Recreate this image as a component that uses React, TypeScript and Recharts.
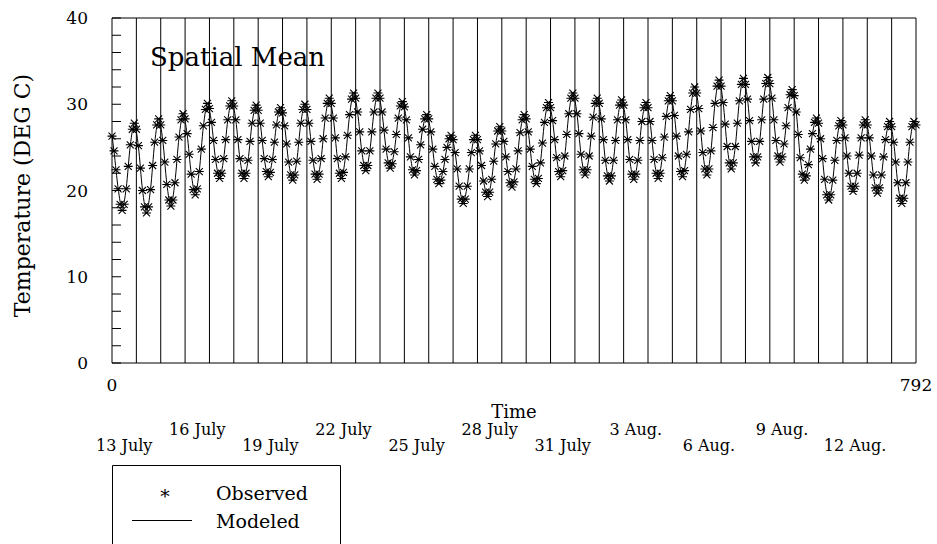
import { ComposedChart, Line, Scatter, XAxis, YAxis, ReferenceLine, ReferenceArea } from "recharts";

const FONT = "DejaVu Serif";

// observed temperature every 2 h, one row per day (hours 0,2,...,22)
const OBSERVED_ROWS = [
  [26.3, 24.6, 22.4, 20.2, 18.4, 17.7, 18.4, 20.2, 22.8, 25.3, 27.1, 27.8],
  [27.1, 25.2, 22.6, 20.0, 18.1, 17.4, 18.1, 20.1, 22.9, 25.6, 27.6, 28.3],
  [27.6, 25.8, 23.3, 20.7, 18.9, 18.2, 18.9, 20.9, 23.6, 26.2, 28.2, 28.9],
  [28.3, 26.6, 24.2, 21.9, 20.1, 19.5, 20.2, 22.2, 24.8, 27.5, 29.4, 30.1],
  [29.5, 27.9, 25.8, 23.6, 22.0, 21.4, 22.0, 23.7, 25.9, 28.2, 29.8, 30.4],
  [29.8, 28.2, 25.9, 23.7, 22.0, 21.4, 22.0, 23.5, 25.7, 27.8, 29.3, 29.9],
  [29.3, 27.8, 25.8, 23.7, 22.2, 21.6, 22.1, 23.6, 25.6, 27.6, 29.1, 29.6],
  [29.0, 27.5, 25.4, 23.3, 21.8, 21.2, 21.8, 23.4, 25.6, 27.8, 29.4, 30.0],
  [29.4, 27.8, 25.7, 23.5, 21.9, 21.3, 21.9, 23.7, 26.0, 28.4, 30.1, 30.7],
  [30.1, 28.4, 26.1, 23.7, 22.0, 21.4, 22.1, 23.9, 26.4, 28.8, 30.6, 31.3],
  [30.7, 29.1, 26.8, 24.6, 22.9, 22.3, 22.9, 24.6, 26.8, 29.1, 30.7, 31.3],
  [30.7, 29.1, 27.0, 24.8, 23.2, 22.6, 23.1, 24.5, 26.5, 28.4, 29.8, 30.3],
  [29.7, 28.2, 26.1, 23.9, 22.4, 21.8, 22.3, 23.6, 25.3, 27.1, 28.3, 28.8],
  [28.3, 26.8, 24.8, 22.8, 21.3, 20.8, 21.2, 22.2, 23.6, 25.0, 26.0, 26.4],
  [25.9, 24.4, 22.5, 20.5, 19.0, 18.5, 19.0, 20.5, 22.5, 24.4, 25.9, 26.4],
  [25.9, 24.6, 22.9, 21.1, 19.8, 19.3, 19.8, 21.3, 23.4, 25.4, 26.9, 27.4],
  [26.9, 25.7, 23.9, 22.2, 20.9, 20.4, 21.0, 22.5, 24.6, 26.7, 28.2, 28.8],
  [28.3, 26.8, 24.8, 22.8, 21.3, 20.8, 21.4, 23.2, 25.5, 27.9, 29.6, 30.2],
  [29.6, 28.1, 25.9, 23.8, 22.2, 21.6, 22.3, 24.0, 26.5, 28.9, 30.7, 31.3],
  [30.7, 28.9, 26.6, 24.2, 22.4, 21.8, 22.4, 24.0, 26.3, 28.5, 30.1, 30.7],
  [30.1, 28.3, 25.9, 23.5, 21.7, 21.1, 21.7, 23.5, 25.8, 28.2, 29.9, 30.5],
  [29.9, 28.2, 25.9, 23.6, 21.9, 21.3, 21.9, 23.5, 25.8, 28.0, 29.6, 30.2],
  [29.6, 28.0, 25.8, 23.6, 22.0, 21.4, 22.0, 23.8, 26.2, 28.6, 30.4, 31.0],
  [30.4, 28.7, 26.3, 24.0, 22.2, 21.6, 22.3, 24.2, 26.8, 29.4, 31.3, 32.0],
  [31.3, 29.5, 26.9, 24.4, 22.5, 21.8, 22.5, 24.6, 27.3, 30.1, 32.1, 32.8],
  [32.1, 30.2, 27.7, 25.1, 23.2, 22.5, 23.2, 25.1, 27.8, 30.4, 32.3, 33.0],
  [32.3, 30.6, 28.1, 25.7, 23.9, 23.2, 23.9, 25.7, 28.2, 30.6, 32.4, 33.1],
  [32.4, 30.7, 28.2, 25.8, 24.0, 23.3, 23.9, 25.4, 27.5, 29.6, 31.1, 31.7],
  [31.0, 29.1, 26.5, 23.8, 21.9, 21.2, 21.7, 23.0, 24.8, 26.6, 27.9, 28.4],
  [27.8, 26.0, 23.7, 21.3, 19.5, 18.9, 19.5, 21.2, 23.5, 25.8, 27.5, 28.1],
  [27.6, 26.1, 24.0, 22.0, 20.5, 19.9, 20.5, 22.0, 24.1, 26.1, 27.6, 28.2],
  [27.6, 26.1, 24.0, 21.8, 20.3, 19.7, 20.3, 21.8, 23.9, 25.9, 27.4, 28.0],
  [27.4, 25.6, 23.3, 20.9, 19.1, 18.5, 19.1, 20.9, 23.3, 25.6, 27.4, 28.0],
];
const OBSERVED_LAST = 27.6; // hour 792

// modeled series, one row per day at hours 2,6,10,14,18,22
const MODEL_HOURS = [2, 6, 10, 14, 18, 22];
const MODEL_FIRST = 26.4; // hour 0
const MODELED_ROWS = [
  [24.5, 20.3, 17.9, 20.3, 25.2, 27.7],
  [25.1, 20.1, 17.6, 20.2, 25.5, 28.2],
  [25.8, 20.8, 18.3, 21.0, 26.1, 28.8],
  [26.5, 22.0, 19.7, 22.3, 27.4, 30.0],
  [27.9, 23.6, 21.5, 23.7, 28.1, 30.3],
  [28.1, 23.7, 21.5, 23.5, 27.8, 29.8],
  [27.8, 23.7, 21.7, 23.6, 27.6, 29.6],
  [27.5, 23.3, 21.3, 23.4, 27.8, 29.9],
  [27.8, 23.5, 21.4, 23.7, 28.3, 30.6],
  [28.4, 23.8, 21.5, 23.9, 28.7, 31.2],
  [29.0, 24.6, 22.4, 24.6, 29.0, 31.2],
  [29.0, 24.8, 22.7, 24.5, 28.4, 30.2],
  [28.2, 23.9, 21.9, 23.6, 27.1, 28.7],
  [26.8, 22.8, 20.9, 22.2, 25.0, 26.4],
  [24.4, 20.6, 18.7, 20.6, 24.4, 26.4],
  [24.6, 21.1, 19.4, 21.3, 25.4, 27.3],
  [25.7, 22.2, 20.5, 22.5, 26.7, 28.7],
  [26.8, 22.8, 20.9, 23.2, 27.9, 30.1],
  [28.1, 23.8, 21.7, 24.0, 28.9, 31.2],
  [28.9, 24.2, 21.9, 24.0, 28.5, 30.6],
  [28.3, 23.5, 21.2, 23.5, 28.2, 30.4],
  [28.2, 23.6, 21.4, 23.5, 28.0, 30.1],
  [28.0, 23.6, 21.5, 23.8, 28.6, 30.9],
  [28.7, 24.0, 21.7, 24.2, 29.4, 31.9],
  [29.5, 24.4, 21.9, 24.6, 30.1, 32.7],
  [30.2, 25.1, 22.6, 25.1, 30.4, 32.9],
  [30.6, 25.7, 23.3, 25.7, 30.6, 33.0],
  [30.7, 25.8, 23.4, 25.4, 29.6, 31.6],
  [29.1, 23.8, 21.3, 23.0, 26.6, 28.3],
  [26.0, 21.3, 19.0, 21.2, 25.8, 28.0],
  [26.1, 22.0, 20.0, 22.0, 26.1, 28.1],
  [26.1, 21.8, 19.8, 21.8, 25.9, 27.9],
  [25.6, 20.9, 18.6, 20.9, 25.6, 27.9],
];
const MODEL_LAST = 27.6;

const DATE_LABELS = ["13 July", "16 July", "19 July", "22 July", "25 July", "28 July", "31 July", "3 Aug.", "6 Aug.", "9 Aug.", "12 Aug."];
const DATE_LABEL_DAYS = [0, 3, 6, 9, 12, 15, 18, 21, 24, 27, 30];
const Y_TICKS = [0, 2, 4, 6, 8, 10, 12, 14, 16, 18, 20, 22, 24, 26, 28, 30, 32, 34, 36, 38, 40];
const X_END_TICKS = [0, 792];

const HOURS_PER_DAY = 24;
const NUM_DAYS = OBSERVED_ROWS.length;
const T_MAX = NUM_DAYS * HOURS_PER_DAY;

const observed = [
  ...OBSERVED_ROWS.flat().map((v, i) => ({ t: i * 2, v })),
  { t: T_MAX, v: OBSERVED_LAST },
];
const modeled = [
  { t: 0, v: MODEL_FIRST },
  ...MODELED_ROWS.flatMap((row, d) => row.map((v, j) => ({ t: d * HOURS_PER_DAY + MODEL_HOURS[j], v }))),
  { t: T_MAX, v: MODEL_LAST },
];
const dayLines = Array.from({ length: NUM_DAYS - 1 }, (_, i) => (i + 1) * HOURS_PER_DAY);
const dateTicks = DATE_LABEL_DAYS.map((d) => d * HOURS_PER_DAY + HOURS_PER_DAY / 2);
const xTicks = [X_END_TICKS[0], ...dateTicks, X_END_TICKS[1]];

const Asterisk = (props: any) => {
  const { cx, cy } = props;
  if (cx == null || cy == null) return null;
  return (
    <path
      d={`M${cx - 4.5},${cy}H${cx + 4.5}M${cx - 3.5},${cy - 3.5}L${cx + 3.5},${cy + 3.5}M${cx - 3.5},${cy + 3.5}L${cx + 3.5},${cy - 3.5}`}
      stroke="#000"
      strokeWidth={1.1}
      fill="none"
    />
  );
};

const TimeTick = (props: any) => {
  const { x, y, payload } = props;
  const v = payload.value;
  if (X_END_TICKS.includes(v)) {
    return (
      <text x={x} y={y + 12} textAnchor="middle" fontSize={17} fontFamily={FONT} fill="#000">
        {v}
      </text>
    );
  }
  const k = dateTicks.indexOf(v);
  return (
    <text x={x} y={y + (k % 2 === 0 ? 71.5 : 56)} textAnchor="middle" fontSize={16} fontFamily={FONT} fill="#000">
      {DATE_LABELS[k]}
    </text>
  );
};

const YTitle = (props: any) => {
  const { viewBox } = props;
  const cx = viewBox.x + 22;
  const cy = viewBox.y + viewBox.height / 2 + 5;
  return (
    <text
      transform={`translate(${cx},${cy}) rotate(-90)`}
      textAnchor="middle"
      dominantBaseline="central"
      fontSize={22}
      fontFamily={FONT}
      fill="#000"
    >
      Temperature (DEG C)
    </text>
  );
};

export default function App() {
  return (
    <div style={{ position: "absolute", left: 0, top: 0, width: 937, height: 544, background: "#fff", fontFamily: FONT }}>
      <ComposedChart width={937} height={544} margin={{ top: 18, right: 0, bottom: 81, left: 0 }}>
        <XAxis
          dataKey="t"
          type="number"
          domain={[0, T_MAX]}
          ticks={xTicks}
          interval={0}
          axisLine={false}
          tickLine={false}
          tickSize={8}
          tickMargin={8}
          height={100}
          tick={<TimeTick />}
          label={{ value: "Time", position: "insideBottom", offset: 45, fontSize: 18, fill: "#000", fontFamily: FONT }}
        />
        <YAxis
          type="number"
          domain={[0, 40]}
          ticks={Y_TICKS}
          interval={0}
          width={112}
          axisLine={false}
          tickSize={-9}
          tickMargin={33}
          tickLine={{ stroke: "#000" }}
          tickFormatter={(v: number) => (v % 10 === 0 ? String(v) : "")}
          tick={{ fontSize: 17, fill: "#000", fontFamily: FONT }}
          label={{ content: (p: any) => <YTitle {...p} /> }}
        />
        <YAxis
          yAxisId="right"
          orientation="right"
          type="number"
          domain={[0, 40]}
          ticks={Y_TICKS}
          interval={0}
          width={21}
          axisLine={false}
          tickSize={-9}
          tickLine={{ stroke: "#000" }}
          tick={false}
        />
        <ReferenceArea
          x1={0}
          x2={T_MAX}
          y1={0}
          y2={40}
          fill="none"
          stroke="#000"
          strokeWidth={1}
          label={{
            content: (p: any) => (
              <text x={p.viewBox.x + 38} y={p.viewBox.y + 48} fontSize={26} fontFamily={FONT} fill="#000">
                Spatial Mean
              </text>
            ),
          }}
        />
        {dayLines.map((t) => (
          <ReferenceLine key={t} x={t} stroke="#000" strokeWidth={1} />
        ))}
        <Scatter data={observed} dataKey="v" shape={<Asterisk />} isAnimationActive={false} />
        <Line data={modeled} dataKey="v" type="monotone" stroke="#000" strokeWidth={1} dot={false} isAnimationActive={false} />
      </ComposedChart>
      <svg style={{ position: "absolute", left: 112, top: 465 }} width={229} height={79}>
        <path d="M0.5,79V0.5H228.5V79" stroke="#000" fill="none" />
        <text x={53} y={38} textAnchor="middle" fontSize={19} fontFamily={FONT} fill="#000">*</text>
        <text x={104} y={35} fontSize={19} fontFamily={FONT} fill="#000">Observed</text>
        <line x1={20} x2={80} y1={55.5} y2={55.5} stroke="#000" />
        <text x={104} y={63} fontSize={19} fontFamily={FONT} fill="#000">Modeled</text>
      </svg>
    </div>
  );
}
